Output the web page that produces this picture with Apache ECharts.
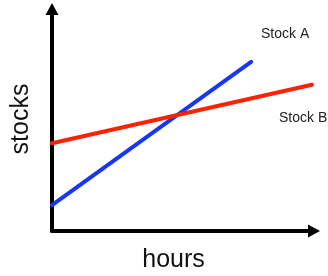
<!DOCTYPE html>
<html>
<head>
<meta charset="utf-8">
<script src="https://cdn.jsdelivr.net/npm/echarts@6/dist/echarts.min.js"></script>
<style>html,body{margin:0;padding:0;background:#fff;}#c{width:328px;height:276px;}</style>
</head>
<body>
<div id="c"></div>
<script>
// Data (axis units 0..100, unlabeled axes)
var stockAx = [0, 76];
var stockAy = [11.7, 76.2];
var stockBx = [0, 99.2];
var stockBy = [39.5, 65.9];
var seriesNames = ['Stock A', 'Stock B'];
var xTitle = 'hours';
var yTitle = 'stocks';

function pairs(xs, ys) { return xs.map(function (x, i) { return [x, ys[i]]; }); }

var chart = echarts.init(document.getElementById('c'), null, { renderer: 'canvas' });
var axisCommon = {
  type: 'value', min: 0, max: 100,
  axisLine: { show: true, symbol: ['none', 'triangle'], symbolSize: [13, 12], symbolOffset: [0, 0],
    lineStyle: { color: '#000', width: 4 } },
  axisTick: { show: false }, axisLabel: { show: false }, splitLine: { show: false }
};
chart.setOption({
  animation: false,
  backgroundColor: '#fff',
  grid: { left: 52, right: 14, top: 9, bottom: 45 },
  xAxis: Object.assign({}, axisCommon),
  yAxis: Object.assign({}, axisCommon),
  series: [
    { name: seriesNames[0], type: 'line', data: pairs(stockAx, stockAy), showSymbol: false, clip: false,
      lineStyle: { color: '#1836f5', width: 4, cap: 'round' }, z: 1 },
    { name: seriesNames[1], type: 'line', data: pairs(stockBx, stockBy), showSymbol: false, clip: false,
      lineStyle: { color: '#ff2200', width: 4, cap: 'round' }, z: 1 }
  ],
  graphic: [
    { type: 'text', left: 261, top: 27, style: { text: seriesNames[0], font: '14px "Liberation Sans", Arial, sans-serif', fill: '#222' } },
    { type: 'text', left: 279, top: 111, style: { text: seriesNames[1], font: '14px "Liberation Sans", Arial, sans-serif', fill: '#222' } },
    { type: 'text', x: 173.5, y: 260, style: { text: xTitle, font: '25px "Liberation Sans", Arial, sans-serif', fill: '#111', align: 'center', verticalAlign: 'middle' } },
    { type: 'text', x: 21, y: 119, rotation: Math.PI / 2, style: { text: yTitle, font: '25px "Liberation Sans", Arial, sans-serif', fill: '#111', align: 'center', verticalAlign: 'middle' } }
  ]
});
</script>
</body>
</html>
